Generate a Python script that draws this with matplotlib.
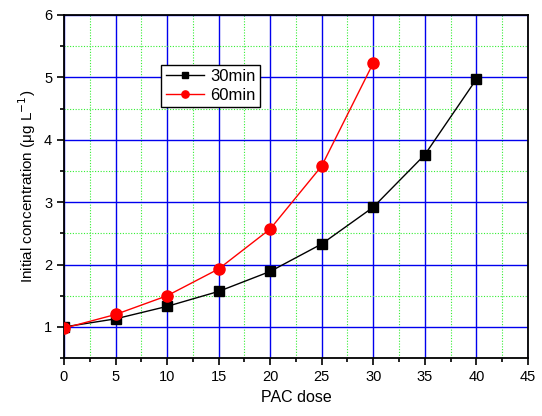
import matplotlib
matplotlib.use("Agg")
from matplotlib import pyplot as plt
from matplotlib.ticker import MultipleLocator

plt.rcParams['font.family'] = ['Liberation Sans', 'DejaVu Sans']

## data
dose_30 = [0, 5, 10, 15, 20, 25, 30, 35, 40]
conc_30 = [1.0, 1.13, 1.33, 1.57, 1.89, 2.33, 2.92, 3.76, 4.97]
dose_60 = [0, 5, 10, 15, 20, 25, 30]
conc_60 = [0.98, 1.2, 1.5, 1.93, 2.57, 3.58, 5.23]

fig = plt.figure(figsize=(5.42, 4.16), dpi=100)
ax = fig.add_axes([0.118, 0.139, 0.856, 0.825])

ax.set_xlim(0, 45)
ax.set_ylim(0.5, 6)
ax.xaxis.set_major_locator(MultipleLocator(5))
ax.xaxis.set_minor_locator(MultipleLocator(2.5))
ax.yaxis.set_major_locator(MultipleLocator(1))
ax.yaxis.set_minor_locator(MultipleLocator(0.5))

ax.grid(True, which='major', color='#0000ee', linewidth=1.0, linestyle='-')
ax.grid(True, which='minor', color='#33ee33', linewidth=0.8, linestyle=(0, (1, 1.5)))
ax.set_axisbelow(True)

ax.plot(dose_30, conc_30, color='black', linewidth=1.0, marker='s', markersize=7, label='30min', zorder=3)
ax.plot(dose_60, conc_60, color='red', linewidth=1.0, marker='o', markersize=8, label='60min', zorder=3)

ax.tick_params(which='both', direction='out', width=1.2, labelsize=10.5, top=False, right=False)
ax.tick_params(which='major', length=5)
ax.tick_params(which='minor', length=3)
for s in ax.spines.values():
    s.set_linewidth(1.3)

ax.set_xlabel('PAC dose', fontsize=11.5)
ax.set_ylabel('Initial concentration (\u03bcg L$^{-1}$)', fontsize=11)

leg = ax.legend(loc='upper left', bbox_to_anchor=(0.21, 0.855), fontsize=12, fancybox=False,
                edgecolor='black', framealpha=1, handlelength=2.3, borderpad=0.25,
                labelspacing=0.25, handletextpad=0.4, markerscale=0.65, borderaxespad=0)
leg.get_frame().set_linewidth(1.0)

fig.savefig('out.png', dpi=100)
